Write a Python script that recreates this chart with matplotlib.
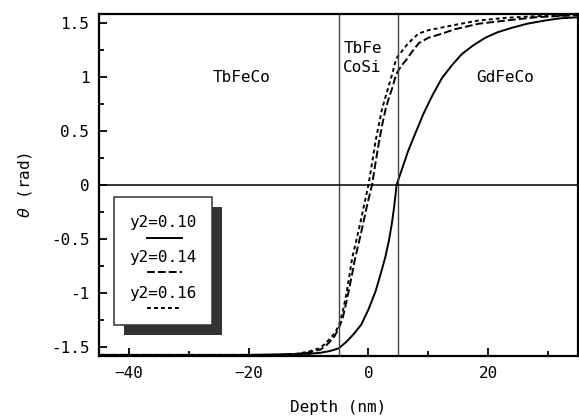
"""Domain-wall twist angle across the TbFeCo / TbFeCoSi / GdFeCo stack."""
import matplotlib
matplotlib.use("Agg")
import matplotlib.pyplot as plt
from matplotlib.patches import Rectangle

depth_010 = [-45, -20, -15, -10, -8, -6.5, -5, -3.7, -2.5, -1.2, 0, 0.5, 1.2,
             2.0, 2.8, 3.4, 3.9, 4.3, 4.7, 5.5, 6.6, 8, 9.2, 10.7, 12.3, 14,
             15.6, 17.5, 19.5, 21.5, 23.8, 26.5, 29.5, 32, 35]
theta_010 = [-1.57, -1.57, -1.565, -1.56, -1.55, -1.535, -1.51, -1.45, -1.38,
             -1.29, -1.15, -1.08, -0.98, -0.83, -0.67, -0.52, -0.36, -0.2,
             0.0, 0.13, 0.31, 0.5, 0.66, 0.83, 0.99, 1.11, 1.21, 1.29, 1.36,
             1.41, 1.45, 1.49, 1.52, 1.54, 1.55]

depth_014 = [-45, -15, -12, -10, -8, -7.2, -6.5, -5.7, -5, -4.3, -3.8, -3.3,
             -2.75, -2.2, -1.55, -0.9, -0.15, 0.6, 1.2, 1.8, 2.35, 2.9, 3.45,
             4.0, 4.4, 4.8, 5.5, 6.5, 7.4, 8.4, 10, 11.8, 14.5, 18.4, 23, 28,
             35]
theta_014 = [-1.57, -1.57, -1.56, -1.55, -1.52, -1.49, -1.45, -1.40, -1.33,
             -1.23, -1.11, -0.98, -0.83, -0.67, -0.52, -0.36, -0.17, 0.0,
             0.21, 0.41, 0.57, 0.71, 0.81, 0.90, 0.98, 1.04, 1.10, 1.17, 1.24,
             1.31, 1.36, 1.39, 1.44, 1.49, 1.52, 1.55, 1.57]

depth_016 = [-45, -15, -12, -10, -8.3, -7.5, -6.6, -5.5, -4.9, -4.3, -3.95,
             -3.6, -3.15, -2.7, -2.05, -1.4, -0.7, 0, 0.6, 1.2, 1.75, 2.3,
             3.2, 4.0, 4.4, 4.8, 5.5, 6.5, 7.4, 8.4, 10, 11.8, 14.5, 18.4, 23,
             28, 35]
theta_016 = [-1.57, -1.57, -1.56, -1.54, -1.51, -1.48, -1.43, -1.36, -1.29,
             -1.17, -1.08, -0.98, -0.83, -0.67, -0.52, -0.36, -0.18, 0.0,
             0.2, 0.41, 0.56, 0.71, 0.88, 1.03, 1.12, 1.18, 1.23, 1.30, 1.35,
             1.40, 1.43, 1.45, 1.48, 1.52, 1.545, 1.56, 1.57]

series_labels = ["y2=0.10", "y2=0.14", "y2=0.16"]
interfaces = [-5, 5]
layer_names = ["TbFeCo", "TbFe\nCoSi", "GdFeCo"]
layer_pos = [(-21.2, 0.99), (-1.0, 1.17), (22.9, 0.99)]

plt.rcParams["font.family"] = ["DejaVu Sans Mono", "DejaVu Sans"]
plt.rcParams["font.size"] = 11.5
plt.rcParams["mathtext.fontset"] = "dejavusans"

fig = plt.figure(figsize=(5.79, 4.19), dpi=100)
ax = fig.add_axes([99 / 579, 1 - 356 / 419, 479 / 579, 342 / 419])

styles = ["-", (0, (4.0, 1.6)), (0, (2.0, 1.6))]
curves = [(depth_010, theta_010), (depth_014, theta_014), (depth_016, theta_016)]
for (x, y), ls in zip(curves, styles):
    ax.plot(x, y, color="black", lw=1.4, ls=ls)

for xi in interfaces:
    ax.axvline(xi, color="#444444", lw=1.0)
ax.axhline(0, color="black", lw=1.1)

for name, (x, y) in zip(layer_names, layer_pos):
    ax.text(x, y, name, ha="center", va="center", linespacing=1.35)

ax.set_xlim(-45, 35)
ax.set_ylim(-1.58, 1.58)
ax.set_xticks([-40, -20, 0, 20])
ax.set_xticks([-30, -10, 10, 30], minor=True)
ax.set_yticks([-1.5, -1, -0.5, 0, 0.5, 1, 1.5])
ax.set_yticklabels(["-1.5", "-1", "-0.5", "0", "0.5", "1", "1.5"])
ax.set_yticks([-1.25, -0.75, -0.25, 0.25, 0.75, 1.25], minor=True)
ax.tick_params(which="both", direction="in", width=1.3)
ax.tick_params(which="major", length=6, pad=7)
ax.tick_params(which="minor", length=3.5)
for s in ax.spines.values():
    s.set_linewidth(1.6)

ax.set_xlabel("Depth (nm)", labelpad=14)
ax.set_ylabel(r"$\theta$ (rad)", labelpad=12)

# legend box with drop shadow, text above line sample
tr = ax.transAxes
ax.add_patch(Rectangle((0.052, 0.062), 0.205, 0.374, transform=tr,
                       facecolor="#333333", edgecolor="none", zorder=4))
ax.add_patch(Rectangle((0.031, 0.091), 0.205, 0.374, transform=tr,
                       facecolor="white", edgecolor="#333333", lw=1.1, zorder=5))
text_y = [0.389, 0.287, 0.184]
line_y = [0.345, 0.246, 0.140]
for lab, ty, ly, ls in zip(series_labels, text_y, line_y, styles):
    ax.text(0.134, ty, lab, transform=tr, ha="center", va="center", zorder=6)
    ax.plot([0.100, 0.173], [ly, ly], transform=tr, color="black", lw=1.4,
            ls=ls, zorder=6)

fig.savefig("out.png", dpi=100)
